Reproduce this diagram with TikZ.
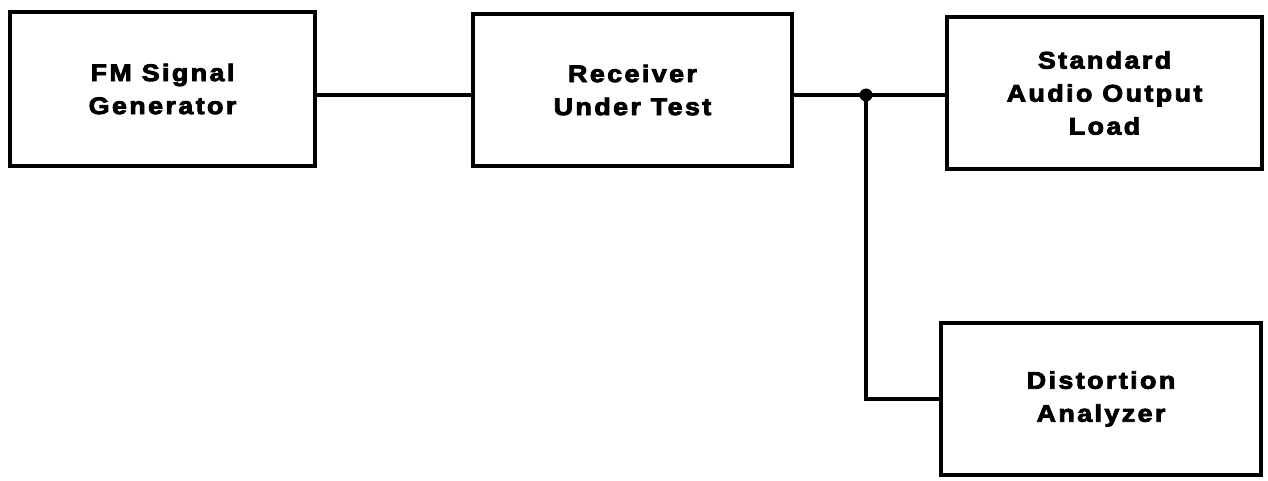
\documentclass[tikz,border=0pt]{standalone}
\usepackage{fontspec}
\newfontfamily\lblfont[FakeStretch=1.12,LetterSpace=10,FakeBold=3.5]{Liberation Sans}
\begin{document}
\begin{tikzpicture}[x=1pt,y=-1pt,
  block/.style={draw, line width=4pt, rectangle, align=center,
    font=\lblfont\bfseries\fontsize{24}{33}\selectfont, inner sep=0pt},
  wire/.style={line width=4pt}]
  \useasboundingbox (0,0) rectangle (1268,481);
  % blocks
  \node[block, minimum width=305pt, minimum height=154pt] (gen) at (162.5,89) {FM Signal\\Generator};
  \node[block, minimum width=319pt, minimum height=152pt] (rx) at (632.5,90) {Receiver\\Under Test};
  \node[block, minimum width=315pt, minimum height=152pt] (load) at (1104.5,93) {Standard\\Audio Output\\Load};
  \node[block, minimum width=320pt, minimum height=152pt] (dist) at (1101,399) {Distortion\\Analyzer};
  % junction on the audio output line
  \coordinate (j) at (866,95);
  % wiring
  \draw[wire] (gen.east |- j) -- (rx.west |- j);
  \draw[wire] (rx.east |- j) -- (j) -- (load.west |- j);
  \draw[wire] (j) |- (dist.west);
  \fill (j) circle (6.5pt);
\end{tikzpicture}
\end{document}
